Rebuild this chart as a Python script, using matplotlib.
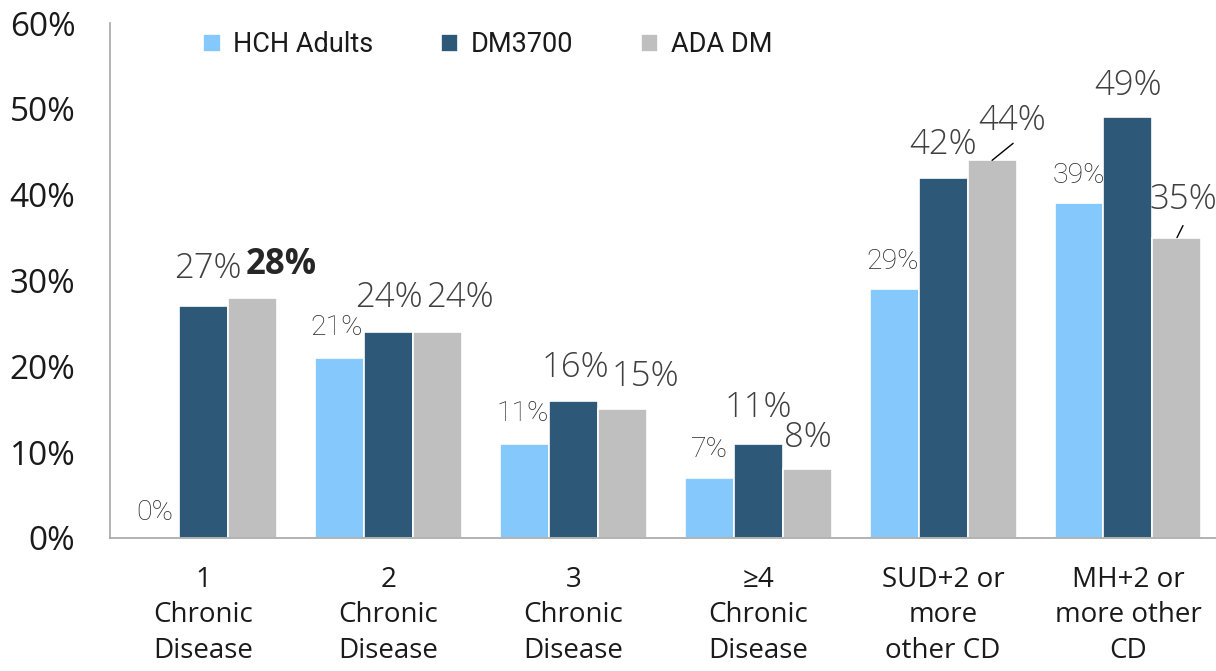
import numpy as np
import matplotlib
matplotlib.use('Agg')
import matplotlib.pyplot as plt

# data
categories = ['1\nChronic\nDisease', '2\nChronic\nDisease', '3\nChronic\nDisease',
              '\u22654\nChronic\nDisease', 'SUD+2 or\nmore\nother CD', 'MH+2 or\nmore other\nCD']
series_names = ['HCH Adults', 'DM3700', 'ADA DM']
hch_adults = [0, 21, 11, 7, 29, 39]
dm3700 = [27, 24, 16, 11, 42, 49]
ada_dm = [28, 24, 15, 8, 44, 35]

colors = ['#85C8FB', '#2D5878', '#BFBFBF']

# label offsets in pixels (dx, dy) relative to the bar top, per series
label_off = [
    [(0, 26), (-3, 30), (-2, 30), (0, 28), (-1, 28), (0, 28)],
    [(4, 38), (0, 34), (2, 33), (0, 36), (0, 33), (0, 32)],
    [(29, 33), (23, 34), (23, 32), (1, 32), (20, 40), (6, 38)],
]
# leader line ends (pixels from bar top) for ADA DM groups 5 and 6
leader_end = {4: (21, 17), 5: (6, 12)}

LIGHT = dict(family=['Open Sans', 'DejaVu Sans'], fontweight='light', fontsize=25, color='#404040')
NARROW = dict(family=['Roboto', 'DejaVu Sans'], fontweight='light', fontsize=20.5, color='#262626')

fig = plt.figure(figsize=(12.16, 6.71), dpi=100)
ax = fig.add_axes([110 / 1216, 133 / 671, 1 - 110 / 1216, (538 - 23) / 671])

x = np.arange(len(categories))
w = 0.265
all_vals = [hch_adults, dm3700, ada_dm]
for i, vals in enumerate(all_vals):
    xs = x + (i - 1) * w
    ax.bar(xs, vals, width=w, color=colors[i], edgecolor='white', linewidth=1.2,
           label=series_names[i], zorder=2)
    for j, v in enumerate(vals):
        dx, dy = label_off[i][j]
        if i == 0:
            style = NARROW
        elif i == 2 and j == 0:
            style = dict(family=['Open Sans', 'DejaVu Sans'], fontweight='bold', fontsize=25, color='#262626')
        else:
            style = LIGHT
        ax.annotate(f'{v}%', (xs[j], v), xytext=(dx, dy), textcoords='offset pixels',
                    ha='center', va='center', annotation_clip=False, **style)

# leader lines for the shifted ADA DM labels
for j, (lx, ly) in leader_end.items():
    ax.annotate('', (x[j] + w, ada_dm[j]), xytext=(lx, ly), textcoords='offset pixels',
                arrowprops=dict(arrowstyle='-', color='black', lw=1, shrinkA=0, shrinkB=0))

ax.set_xlim(-0.506, 5.476)
ax.set_ylim(0, 60)
ax.set_yticks(range(0, 61, 10))
ax.set_yticklabels([f'{t}%' for t in range(0, 61, 10)])
ax.set_xticks(x)
ax.set_xticklabels(categories, linespacing=1.36)
ax.tick_params(axis='y', length=0, pad=25, labelsize=24, labelcolor='#1a1a1a')
ax.tick_params(axis='x', length=0, pad=20, labelsize=20, labelcolor='#1a1a1a')
for lab in ax.get_yticklabels() + ax.get_xticklabels():
    lab.set_family(['Open Sans', 'DejaVu Sans'])

for s in ['top', 'right']:
    ax.spines[s].set_visible(False)
ax.spines['left'].set_color('#A6A6A6')
ax.spines['bottom'].set_color('#A6A6A6')
ax.spines['left'].set_linewidth(1.2)
ax.spines['bottom'].set_linewidth(1.2)

fig.legend(loc='center', bbox_to_anchor=(0.401, 0.933), ncol=3, frameon=False,
           prop=dict(family=['Roboto', 'DejaVu Sans'], size=19.5),
           handlelength=0.65, handleheight=0.65, handletextpad=0.45, columnspacing=2.5,
           labelcolor='#1a1a1a')

fig.savefig('out.png', dpi=100)
